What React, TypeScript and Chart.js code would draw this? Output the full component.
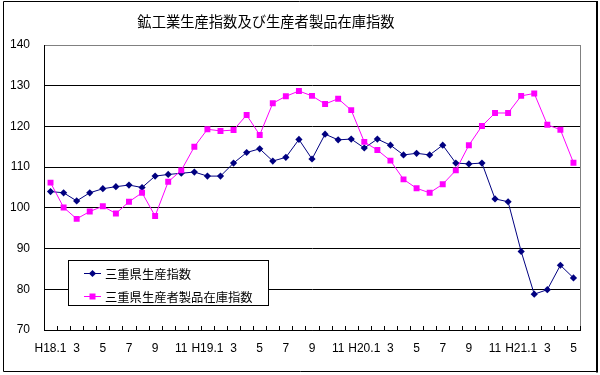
import React, { useEffect, useRef } from 'react';
import { Chart, registerables } from 'chart.js';

Chart.register(...registerables);

const TITLE = '鉱工業生産指数及び生産者製品在庫指数';

const monthLabels = [
  'H18.1', '2', '3', '4', '5', '6', '7', '8', '9', '10', '11', '12',
  'H19.1', '2', '3', '4', '5', '6', '7', '8', '9', '10', '11', '12',
  'H20.1', '2', '3', '4', '5', '6', '7', '8', '9', '10', '11', '12',
  'H21.1', '2', '3', '4', '5',
];

const productionLabel = '三重県生産指数';
const productionValues = [
  104.0, 103.7, 101.7, 103.7, 104.7, 105.2, 105.6, 105.0, 107.8, 108.2, 108.5, 108.8,
  107.8, 107.8, 111.0, 113.6, 114.5, 111.5, 112.4, 116.8, 112.0, 118.1, 116.7, 116.9,
  114.7, 116.9, 115.4, 113.0, 113.4, 113.0, 115.4, 111.0, 110.8, 111.0, 102.2, 101.5,
  89.3, 78.8, 79.9, 85.9, 82.8,
];

const inventoryLabel = '三重県生産者製品在庫指数';
const inventoryValues = [
  106.2, 100.1, 97.3, 99.1, 100.4, 98.6, 101.5, 103.7, 98.0, 106.4, 109.2, 115.0,
  119.3, 118.9, 119.1, 122.8, 117.9, 125.7, 127.4, 128.7, 127.5, 125.5, 126.8, 124.0,
  116.2, 114.2, 111.6, 107.0, 104.8, 103.7, 105.8, 109.2, 115.4, 120.1, 123.3, 123.3,
  127.5, 128.1, 120.4, 119.2, 111.1,
];

const Y_MIN = 70;
const Y_MAX = 140;
const Y_STEP = 10;

const BLUE = '#000080';
const PINK = '#FF00FF';
const CJK = '"Noto Sans CJK JP", sans-serif';

const decorPlugin = {
  id: 'decor',
  beforeDatasetsDraw(chart: any) {
    const { ctx, chartArea: a } = chart;
    ctx.save();
    // right plot border (grey)
    ctx.strokeStyle = '#808080';
    ctx.lineWidth = 1;
    const rx = Math.round(a.right) + 0.5;
    ctx.beginPath();
    ctx.moveTo(rx, a.top);
    ctx.lineTo(rx, a.bottom);
    ctx.stroke();
    // inside tick marks on category axis
    const xs = chart.scales.x;
    const n = chart.data.labels.length;
    const half = (xs.getPixelForValue(1) - xs.getPixelForValue(0)) / 2;
    ctx.strokeStyle = '#000';
    ctx.beginPath();
    for (let i = 0; i <= n; i++) {
      const x = Math.round(xs.getPixelForValue(i) - half) + 0.5;
      ctx.moveTo(x, a.bottom);
      ctx.lineTo(x, a.bottom - 4);
    }
    ctx.stroke();
    ctx.restore();
  },
  afterDraw(chart: any) {
    const { ctx } = chart;
    ctx.save();
    // outer frame
    ctx.strokeStyle = '#000';
    ctx.lineWidth = 1;
    ctx.beginPath();
    ctx.moveTo(3.5, 1.5);
    ctx.lineTo(596, 1.5);
    ctx.moveTo(3.5, 1.5);
    ctx.lineTo(3.5, 371.5);
    ctx.lineTo(597, 371.5);
    ctx.stroke();
    ctx.lineWidth = 2;
    ctx.beginPath();
    ctx.moveTo(597, 1);
    ctx.lineTo(597, 372.5);
    ctx.stroke();

    // title
    ctx.fillStyle = '#000';
    ctx.font = `14.3px ${CJK}`;
    ctx.textAlign = 'center';
    ctx.textBaseline = 'middle';
    ctx.fillText(TITLE, 266, 22);

    // legend box
    const bx = 68, by = 260, bw = 200, bh = 45;
    ctx.fillStyle = '#fff';
    ctx.fillRect(bx, by, bw, bh);
    ctx.strokeStyle = '#000';
    ctx.lineWidth = 1;
    ctx.strokeRect(bx + 0.5, by + 0.5, bw, bh);
    const rows = [273, 296];
    chart.data.datasets.forEach((ds: any, i: number) => {
      const y = rows[i];
      ctx.strokeStyle = ds.borderColor;
      ctx.lineWidth = 1;
      ctx.beginPath();
      ctx.moveTo(84, y + 0.5);
      ctx.lineTo(101, y + 0.5);
      ctx.stroke();
      ctx.fillStyle = ds.backgroundColor;
      if (ds.pointStyle === 'rectRot') {
        const r = ds.pointRadius;
        ctx.beginPath();
        ctx.moveTo(92.5 - r, y + 0.5);
        ctx.lineTo(92.5, y + 0.5 - r);
        ctx.lineTo(92.5 + r, y + 0.5);
        ctx.lineTo(92.5, y + 0.5 + r);
        ctx.closePath();
        ctx.fill();
      } else {
        ctx.fillRect(89.5, y - 2.5, 6, 6);
      }
      ctx.fillStyle = '#000';
      ctx.font = `12.3px ${CJK}`;
      ctx.textAlign = 'left';
      ctx.textBaseline = 'middle';
      ctx.fillText(ds.label, 105, y + 1);
    });
    ctx.restore();
  },
};

export default function App() {
  const ref = useRef<HTMLCanvasElement>(null);
  useEffect(() => {
    if (!ref.current) return;
    const chart = new Chart(ref.current, {
      type: 'line',
      data: {
        labels: monthLabels,
        datasets: [
          {
            label: productionLabel,
            data: productionValues,
            borderColor: BLUE,
            backgroundColor: BLUE,
            borderWidth: 1,
            pointStyle: 'rectRot',
            pointRadius: 3.6,
            pointBorderWidth: 0,
            tension: 0,
            order: 1,
          },
          {
            label: inventoryLabel,
            data: inventoryValues,
            borderColor: PINK,
            backgroundColor: PINK,
            borderWidth: 1,
            pointStyle: 'rect',
            pointRadius: 4.2,
            pointBorderWidth: 0,
            tension: 0,
            order: 0,
          },
        ],
      },
      options: {
        animation: false,
        responsive: false,
        maintainAspectRatio: false,
        layout: { padding: { left: 0, right: 20, top: 45, bottom: 0 } },
        plugins: {
          legend: { display: false },
          title: { display: false },
          tooltip: { enabled: false },
        },
        scales: {
          x: {
            type: 'category',
            offset: true,
            grid: { display: false, drawTicks: false },
            border: { display: true, color: '#000', width: 1 },
            ticks: {
              autoSkip: false,
              maxRotation: 0,
              minRotation: 0,
              padding: 11,
              color: '#000',
              font: { family: '"Liberation Sans", Arial, sans-serif', size: 12 },
              callback: (_v: any, i: number) => (i % 2 === 0 ? monthLabels[i] : ''),
            },
            afterFit: (s: any) => { s.height = 45; },
          },
          y: {
            min: Y_MIN,
            max: Y_MAX,
            grid: {
              drawTicks: false,
              color: (c: any) => (c.tick && c.tick.value === Y_MAX ? '#808080' : '#000'),
              lineWidth: 1,
            },
            border: { display: true, color: '#000', width: 1 },
            ticks: {
              stepSize: Y_STEP,
              padding: 14,
              color: '#000',
              font: { family: '"Liberation Sans", Arial, sans-serif', size: 12 },
            },
            afterFit: (s: any) => { s.width = 44; },
          },
        },
      },
      plugins: [decorPlugin],
    });
    return () => chart.destroy();
  }, []);

  return (
    <div style={{ position: 'fixed', left: 0, top: 0, width: 600, height: 375, background: '#fff' }}>
      <canvas ref={ref} width={600} height={375} style={{ display: 'block' }} />
    </div>
  );
}
